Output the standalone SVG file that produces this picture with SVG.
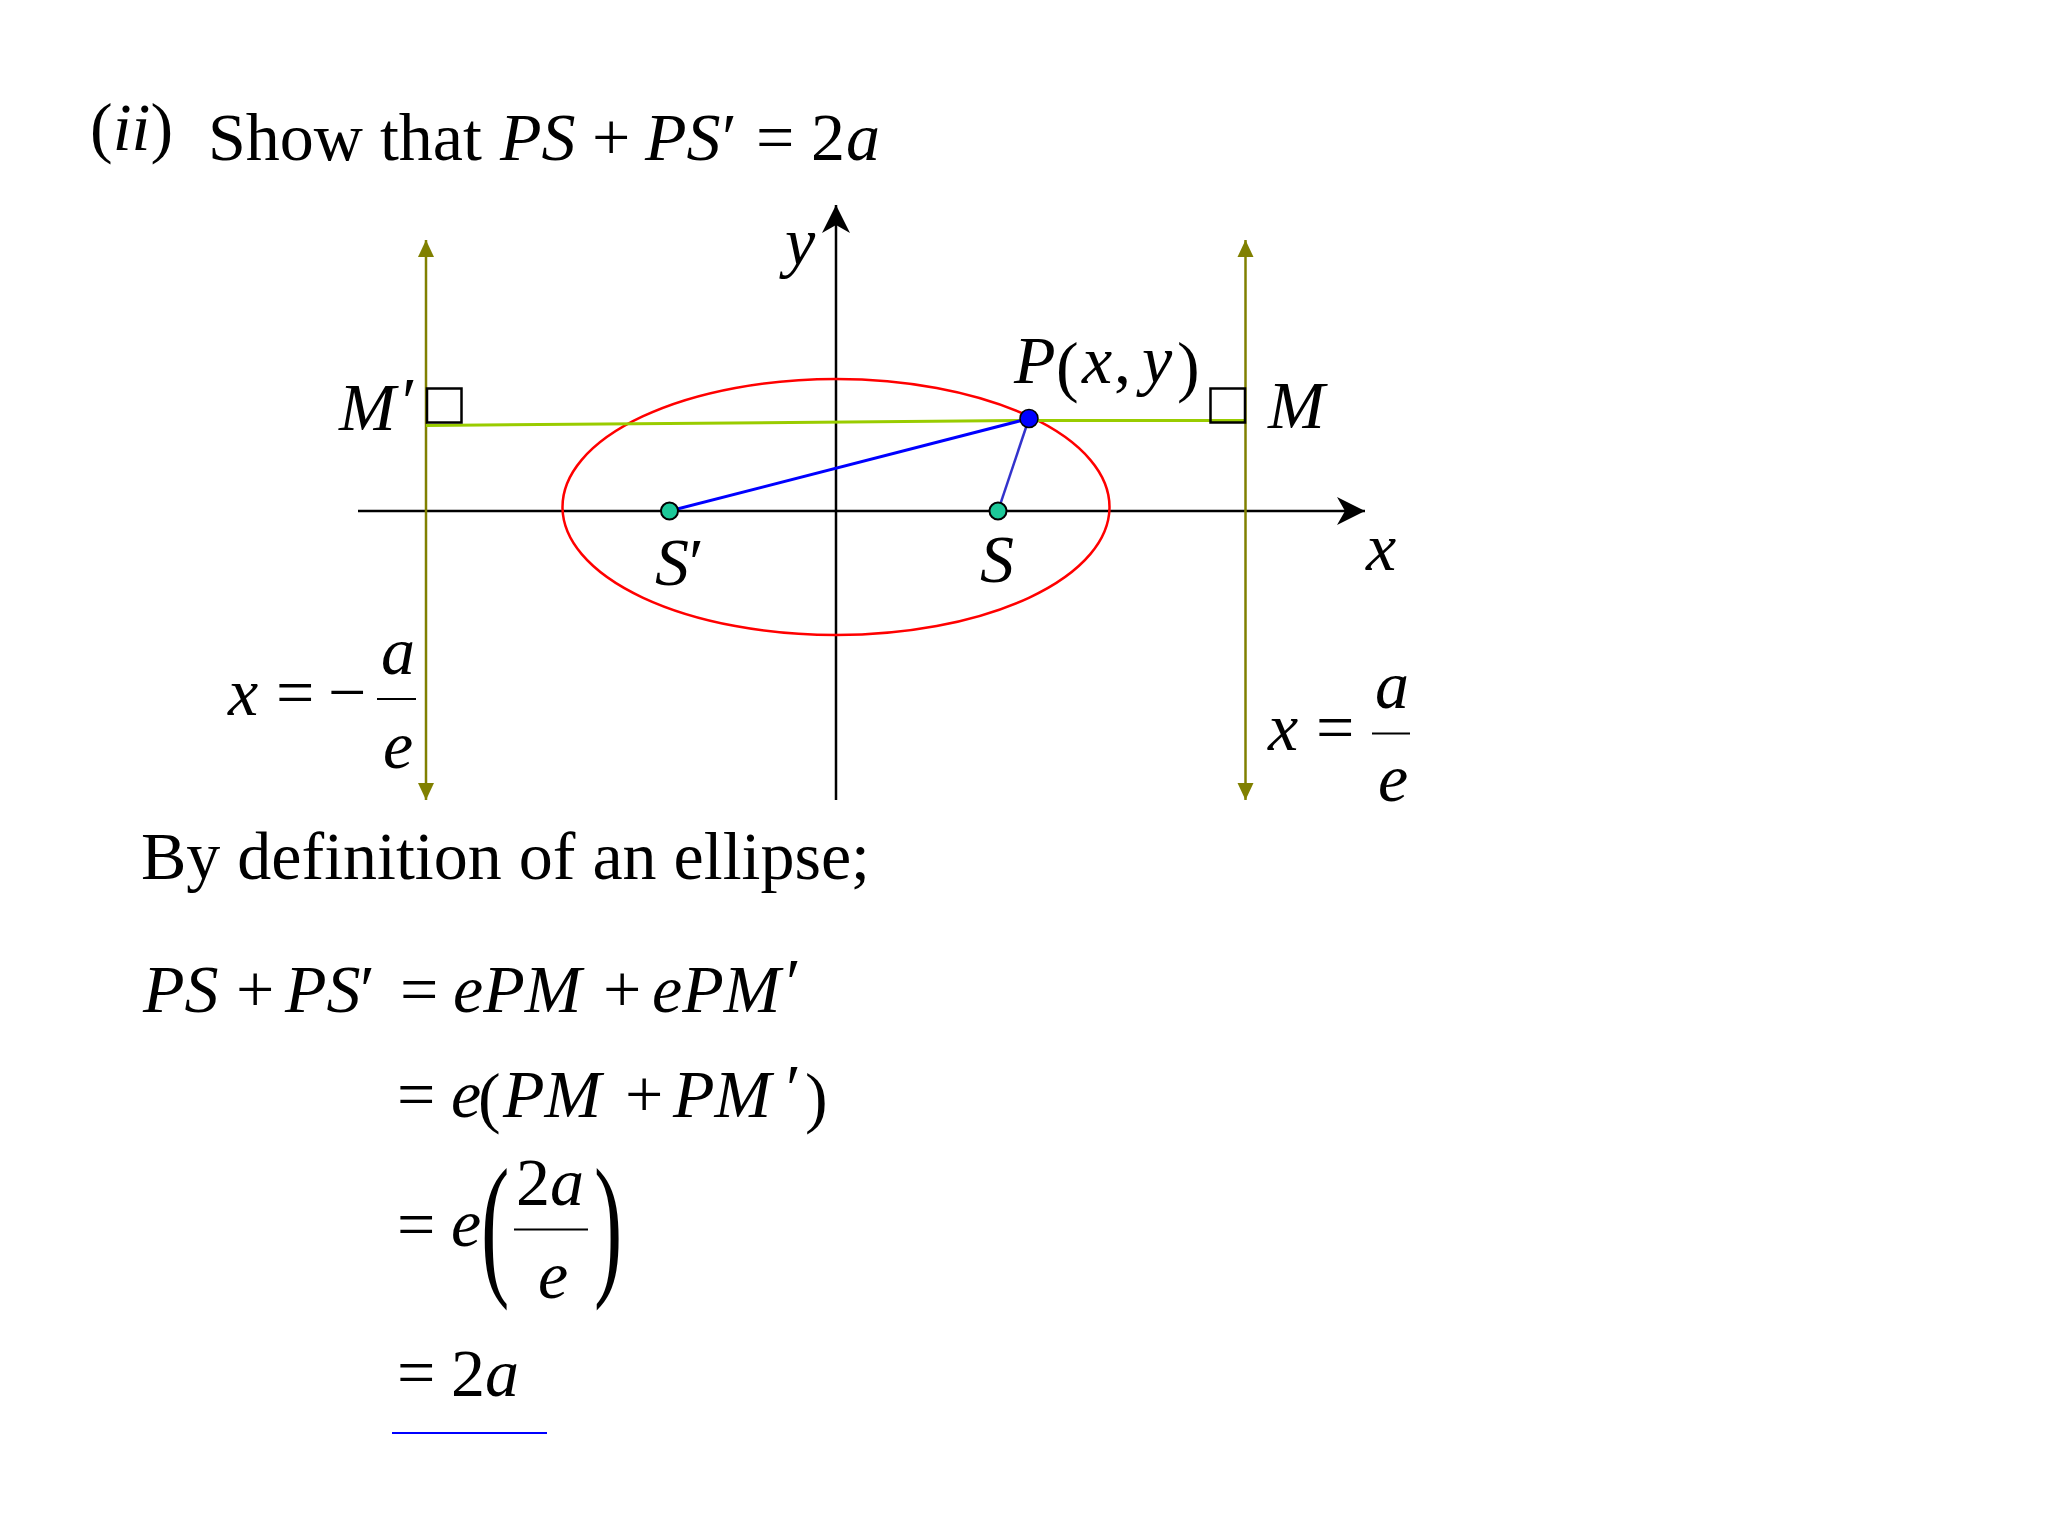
<svg xmlns="http://www.w3.org/2000/svg" width="2048" height="1536" viewBox="0 0 2048 1536">
<style>
.t{font-family:"Liberation Serif","Times New Roman",serif;font-size:68px;fill:#000}
.i{font-style:italic}
.ax{stroke:#000;stroke-width:2.5;fill:none}
.dir{stroke:#808000;stroke-width:2.5;fill:none}
.foc{fill:#1DC999;stroke:#000;stroke-width:2}
.box{fill:none;stroke:#000;stroke-width:2.5}
</style>
<defs>
<marker id="olv" markerWidth="18" markerHeight="18" viewBox="0 0 18 18" refX="17" refY="9" orient="auto" markerUnits="userSpaceOnUse">
<path d="M0,1 L17,9 L0,17 Z" fill="#808000"/>
</marker>
<marker id="blk" markerWidth="30" markerHeight="30" viewBox="0 0 30 30" refX="28" refY="15" orient="auto" markerUnits="userSpaceOnUse">
<path d="M0,1 L28,15 L0,29 L8,15 Z" fill="#000"/>
</marker>
</defs>
<rect width="2048" height="1536" fill="#fff"/>

<g id="title">
<text class="t" x="90" y="150" font-size="64">(<tspan class="i">ii</tspan>)</text>
<text class="t" x="208" y="160">Show that</text>
<text class="t i" x="500" y="160">PS</text>
<text class="t" x="592" y="160">+</text>
<text class="t i" x="645" y="160">PS</text>
<text class="t" x="722" y="160">′</text>
<text class="t" x="756" y="160">=</text>
<text class="t" x="811" y="160">2</text>
<text class="t i" x="846" y="160">a</text>
</g>

<g id="axes">
<line class="ax" x1="358" y1="511" x2="1365" y2="511" marker-end="url(#blk)"/>
<line class="ax" x1="836" y1="800" x2="836" y2="205" marker-end="url(#blk)"/>
<text class="t i" x="1366" y="570">x</text>
<text class="t i" x="785" y="265">y</text>
</g>

<g id="directrix-left">
<line class="dir" x1="426" y1="520" x2="426" y2="240" marker-end="url(#olv)"/>
<line class="dir" x1="426" y1="520" x2="426" y2="800" marker-end="url(#olv)"/>
<text class="t i" x="228" y="715">x</text>
<text class="t" x="276" y="715">=</text>
<text class="t" x="328" y="715">−</text>
<line x1="377" y1="699" x2="416" y2="699" stroke="#000" stroke-width="2"/>
<text class="t i" x="381" y="674">a</text>
<text class="t i" x="383" y="768">e</text>
</g>

<g id="directrix-right">
<line class="dir" x1="1245.5" y1="520" x2="1245.5" y2="240" marker-end="url(#olv)"/>
<line class="dir" x1="1245.5" y1="520" x2="1245.5" y2="800" marker-end="url(#olv)"/>
<text class="t i" x="1268" y="750">x</text>
<text class="t" x="1316" y="750">=</text>
<line x1="1372" y1="733.5" x2="1410" y2="733.5" stroke="#000" stroke-width="2"/>
<text class="t i" x="1375" y="708">a</text>
<text class="t i" x="1378" y="801">e</text>
</g>

<g id="ellipse">
<ellipse cx="836" cy="507" rx="273.5" ry="128" fill="none" stroke="#FF0000" stroke-width="2.5"/>
</g>

<g id="connectors">
<line x1="426" y1="425.5" x2="1029" y2="420.5" stroke="#99CC00" stroke-width="3"/>
<line x1="1029" y1="420.5" x2="1245.5" y2="420.5" stroke="#99CC00" stroke-width="3"/>
<line x1="669.5" y1="511" x2="1029" y2="418.5" stroke="#0000FF" stroke-width="3"/>
<line x1="998" y1="511" x2="1029" y2="418.5" stroke="#3333CC" stroke-width="2.5"/>
</g>

<g id="node-M-prime">
<rect class="box" x="427" y="388.5" width="34.5" height="34"/>
<text class="t i" x="339" y="430">M</text>
<text class="t" x="402" y="424">′</text>
</g>

<g id="node-M">
<rect class="box" x="1210.5" y="388.5" width="34.5" height="34"/>
<text class="t i" x="1268" y="428">M</text>
</g>

<g id="node-S-prime">
<circle class="foc" cx="669.5" cy="511" r="8.5"/>
<text class="t i" x="655" y="585">S</text>
<text class="t" x="689" y="585">′</text>
</g>

<g id="node-S">
<circle class="foc" cx="998" cy="511" r="8.5"/>
<text class="t i" x="980" y="582">S</text>
</g>

<g id="node-P">
<circle cx="1029" cy="418.5" r="9" fill="#0000FF" stroke="#000" stroke-width="1.5"/>
<text class="t i" x="1014" y="383">P</text>
<text class="t" x="1056" y="389" font-size="88">(</text>
<text class="t i" x="1082" y="383">x</text>
<text class="t" x="1114" y="383">,</text>
<text class="t i" x="1142" y="383">y</text>
<text class="t" x="1177" y="389" font-size="88">)</text>
</g>

<g id="text-definition">
<text class="t" x="141" y="879" font-size="67">By definition of an ellipse;</text>
</g>

<g id="eq1">
<text class="t i" x="143" y="1011.5">PS</text>
<text class="t" x="236" y="1011.5">+</text>
<text class="t i" x="285" y="1011.5">PS</text>
<text class="t" x="360" y="1011.5">′</text>
<text class="t" x="400" y="1011.5">=</text>
<text class="t i" x="453" y="1011.5">ePM</text>
<text class="t" x="603" y="1011.5">+</text>
<text class="t i" x="652" y="1011.5">ePM</text>
<text class="t" x="786" y="1005">′</text>
</g>

<g id="eq2">
<text class="t" x="397" y="1117">=</text>
<text class="t i" x="451" y="1117">e</text>
<text class="t" x="478" y="1120" font-size="88">(</text>
<text class="t i" x="503" y="1117">PM</text>
<text class="t" x="625" y="1117">+</text>
<text class="t i" x="673" y="1117">PM</text>
<text class="t" x="786" y="1111">′</text>
<text class="t" x="805" y="1120" font-size="88">)</text>
</g>

<g id="eq3">
<text class="t" x="397" y="1247">=</text>
<text class="t i" x="451" y="1246">e</text>
<text class="t" font-size="80" transform="translate(481,1277.4) scale(1.25,2.3)">(</text>
<text class="t" font-size="80" transform="translate(594,1277.4) scale(1.25,2.3)">)</text>
<text class="t" x="516" y="1205">2</text>
<text class="t i" x="550" y="1205">a</text>
<line x1="514" y1="1229.5" x2="588" y2="1229.5" stroke="#000" stroke-width="2"/>
<text class="t i" x="538" y="1298">e</text>
</g>

<g id="eq4">
<text class="t" x="397" y="1395">=</text>
<text class="t" x="451" y="1396">2</text>
<text class="t i" x="485" y="1396">a</text>
<line x1="392" y1="1433" x2="547" y2="1433" stroke="#0000FF" stroke-width="2"/>
</g>
</svg>
